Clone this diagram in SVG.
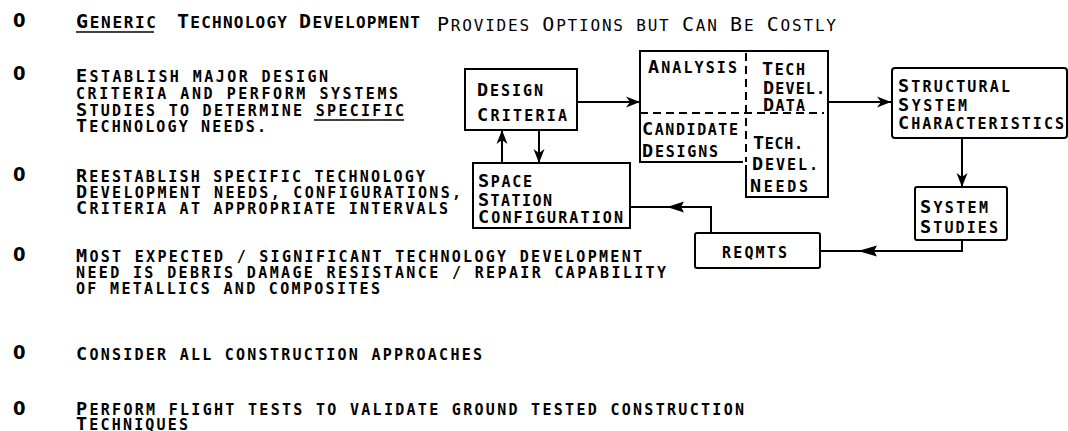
<svg xmlns="http://www.w3.org/2000/svg" width="1068" height="431" viewBox="0 0 1068 431">
  <style>
    .t { font-family: "DejaVu Sans Mono", "Liberation Mono", monospace; font-weight: bold; font-size: 15px; fill: #000; }
    .t .b { font-size: 18.5px; }
    .h { font-size: 16px; }
    .h .b { font-size: 20px; }
    .thin { font-weight: normal; }
    .z { font-family: "Liberation Sans Narrow", "DejaVu Sans Condensed", "Liberation Sans", sans-serif; font-weight: bold; font-size: 20px; fill: #000; }
    .box { fill: none; stroke: #000; stroke-width: 2; }
    .dash { fill: none; stroke: #000; stroke-width: 2; stroke-dasharray: 8 5; }
    .ln { fill: none; stroke: #000; stroke-width: 2; }
    .ul { stroke: #000; stroke-width: 1.6; }
    .mh { fill: #000; stroke: none; }
  </style>
  <defs>
    <marker id="ah" markerUnits="userSpaceOnUse" markerWidth="16" markerHeight="12" refX="14" refY="6" orient="auto">
      <path d="M0,0.5 L14,6 L0,11.5 L4,6 z" fill="#000"/>
    </marker>
  </defs>
  <rect width="1068" height="431" fill="#fff"/>

  <!-- header -->
  <g id="header">
    <text class="z" x="13" y="27">0</text>
    <text class="t h" x="76" y="28" textLength="80" lengthAdjust="spacing"><tspan class="b">G</tspan>ENERIC</text>
    <line class="ul" x1="76" y1="32" x2="154" y2="32"/>
    <text class="t h" x="177" y="28" textLength="243" lengthAdjust="spacing"><tspan class="b">T</tspan>ECHNOLOGY <tspan class="b">D</tspan>EVELOPMENT</text>
    <text class="t h thin" x="437" y="31" textLength="399" lengthAdjust="spacing"><tspan class="b">P</tspan>ROVIDES <tspan class="b">O</tspan>PTIONS BUT <tspan class="b">C</tspan>AN <tspan class="b">B</tspan>E <tspan class="b">C</tspan>OSTLY</text>
  </g>

  <!-- bullets -->
  <g id="bullet-1">
    <text class="z" x="13" y="80">0</text>
    <text class="t" x="76" y="82" textLength="252" lengthAdjust="spacing"><tspan class="b">E</tspan>STABLISH MAJOR DESIGN</text>
    <text class="t" x="76" y="99" textLength="322" lengthAdjust="spacing">CRITERIA AND PERFORM SYSTEMS</text>
    <text class="t" x="76" y="116" textLength="328" lengthAdjust="spacing"><tspan class="b">S</tspan>TUDIES TO DETERMINE SPECIFIC</text>
    <line class="ul" x1="314" y1="120" x2="404" y2="120"/>
    <text class="t" x="76" y="132" textLength="190" lengthAdjust="spacing"><tspan class="b">T</tspan>ECHNOLOGY NEEDS.</text>
  </g>
  <g id="bullet-2">
    <text class="z" x="13" y="181">0</text>
    <text class="t" x="76" y="182" textLength="349" lengthAdjust="spacing"><tspan class="b">R</tspan>EESTABLISH SPECIFIC TECHNOLOGY</text>
    <text class="t" x="76" y="198" textLength="385" lengthAdjust="spacing"><tspan class="b">D</tspan>EVELOPMENT NEEDS, CONFIGURATIONS,</text>
    <text class="t" x="76" y="214" textLength="372" lengthAdjust="spacing"><tspan class="b">C</tspan>RITERIA AT APPROPRIATE INTERVALS</text>
  </g>
  <g id="bullet-3">
    <text class="z" x="13" y="261">0</text>
    <text class="t" x="76" y="262" textLength="566" lengthAdjust="spacing"><tspan class="b">M</tspan>OST EXPECTED / SIGNIFICANT TECHNOLOGY DEVELOPMENT</text>
    <text class="t" x="76" y="278" textLength="590" lengthAdjust="spacing">NEED IS DEBRIS DAMAGE RESISTANCE / REPAIR CAPABILITY</text>
    <text class="t" x="76" y="294" textLength="304" lengthAdjust="spacing">OF METALLICS AND COMPOSITES</text>
  </g>
  <g id="bullet-4">
    <text class="z" x="13" y="359">0</text>
    <text class="t" x="76" y="360" textLength="406" lengthAdjust="spacing"><tspan class="b">C</tspan>ONSIDER ALL CONSTRUCTION APPROACHES</text>
  </g>
  <g id="bullet-5">
    <text class="z" x="13" y="415">0</text>
    <text class="t" x="76" y="415" textLength="668" lengthAdjust="spacing"><tspan class="b">P</tspan>ERFORM FLIGHT TESTS TO VALIDATE GROUND TESTED CONSTRUCTION</text>
    <text class="t" x="76" y="430" textLength="112" lengthAdjust="spacing"><tspan class="b">T</tspan>ECHNIQUES</text>
  </g>

  <!-- nodes -->
  <g id="node-design-criteria">
    <rect class="box" x="465" y="69" width="112" height="61"/>
    <text class="t" x="477" y="96" textLength="66" lengthAdjust="spacing"><tspan class="b">D</tspan>ESIGN</text>
    <text class="t" x="477" y="121" textLength="90" lengthAdjust="spacing"><tspan class="b">C</tspan>RITERIA</text>
  </g>

  <g id="node-analysis-tech">
    <path class="box" d="M746,51 H640 V162 H743"/>
    <path class="box" d="M746,51 H828 V197 H746 V165"/>
    <line class="dash" x1="746" y1="53" x2="746" y2="162"/>
    <line class="dash" x1="640" y1="113" x2="824" y2="113"/>
    <g id="node-analysis">
      <text class="t" x="648" y="73" textLength="89" lengthAdjust="spacing"><tspan class="b">A</tspan>NALYSIS</text>
    </g>
    <g id="node-candidate-designs">
      <text class="t" x="642" y="135" textLength="96" lengthAdjust="spacing"><tspan class="b">C</tspan>ANDIDATE</text>
      <text class="t" x="642" y="157" textLength="76" lengthAdjust="spacing"><tspan class="b">D</tspan>ESIGNS</text>
    </g>
    <g id="node-tech-devel-data">
      <text class="t" x="762" y="75" textLength="43" lengthAdjust="spacing"><tspan class="b">T</tspan>ECH</text>
      <text class="t" x="763" y="94" textLength="62" lengthAdjust="spacing"><tspan class="b">D</tspan>EVEL.</text>
      <text class="t" x="763" y="111" textLength="42" lengthAdjust="spacing"><tspan class="b">D</tspan>ATA</text>
    </g>
    <g id="node-tech-devel-needs">
      <text class="t" x="753" y="149" textLength="50" lengthAdjust="spacing"><tspan class="b">T</tspan>ECH.</text>
      <text class="t" x="752" y="170" textLength="66" lengthAdjust="spacing"><tspan class="b">D</tspan>EVEL.</text>
      <text class="t" x="750" y="192" textLength="58" lengthAdjust="spacing"><tspan class="b">N</tspan>EEDS</text>
    </g>
  </g>

  <g id="node-space-station">
    <rect class="box" x="473" y="163" width="157" height="65"/>
    <text class="t" x="478" y="187" textLength="54" lengthAdjust="spacing"><tspan class="b">S</tspan>PACE</text>
    <text class="t" x="478" y="206" textLength="74" lengthAdjust="spacing"><tspan class="b">S</tspan>TATION</text>
    <text class="t" x="478" y="223" textLength="145" lengthAdjust="spacing"><tspan class="b">C</tspan>ONFIGURATION</text>
  </g>

  <g id="node-structural">
    <rect class="box" x="892" y="68" width="175" height="70" rx="3"/>
    <text class="t" x="898" y="92" textLength="112" lengthAdjust="spacing"><tspan class="b">S</tspan>TRUCTURAL</text>
    <text class="t" x="898" y="111" textLength="69" lengthAdjust="spacing"><tspan class="b">S</tspan>YSTEM</text>
    <text class="t" x="898" y="129" textLength="166" lengthAdjust="spacing"><tspan class="b">C</tspan>HARACTERISTICS</text>
  </g>

  <g id="node-system-studies">
    <rect class="box" x="915" y="187" width="92" height="53" rx="2"/>
    <text class="t" x="920" y="213" textLength="68" lengthAdjust="spacing"><tspan class="b">S</tspan>YSTEM</text>
    <text class="t" x="920" y="233" textLength="78" lengthAdjust="spacing"><tspan class="b">S</tspan>TUDIES</text>
  </g>

  <g id="node-reqmts">
    <rect class="box" x="695" y="233" width="125" height="35" rx="2"/>
    <text class="t" x="722" y="258" textLength="65" lengthAdjust="spacing">REQMTS</text>
  </g>

  <!-- connectors -->
  <g id="connectors">
    <line class="ln" x1="577" y1="102" x2="640" y2="102" marker-end="url(#ah)"/>
    <line class="ln" x1="539" y1="130" x2="539" y2="163" marker-end="url(#ah)"/>
    <line class="ln" x1="502" y1="163" x2="502" y2="130" marker-end="url(#ah)"/>
    <line class="ln" x1="828" y1="102" x2="891" y2="102" marker-end="url(#ah)"/>
    <line class="ln" x1="962" y1="138" x2="962" y2="187" marker-end="url(#ah)"/>
    <path class="ln" d="M962,240 V251 H820"/>
    <path class="mh" d="M858,251 L877,245.5 L874,251 L877,256.5 z"/>
    <path class="ln" d="M711,233 V207 H630"/>
    <path class="mh" d="M667,207 L684,201.5 L681,207 L684,212.5 z"/>
  </g>
</svg>
